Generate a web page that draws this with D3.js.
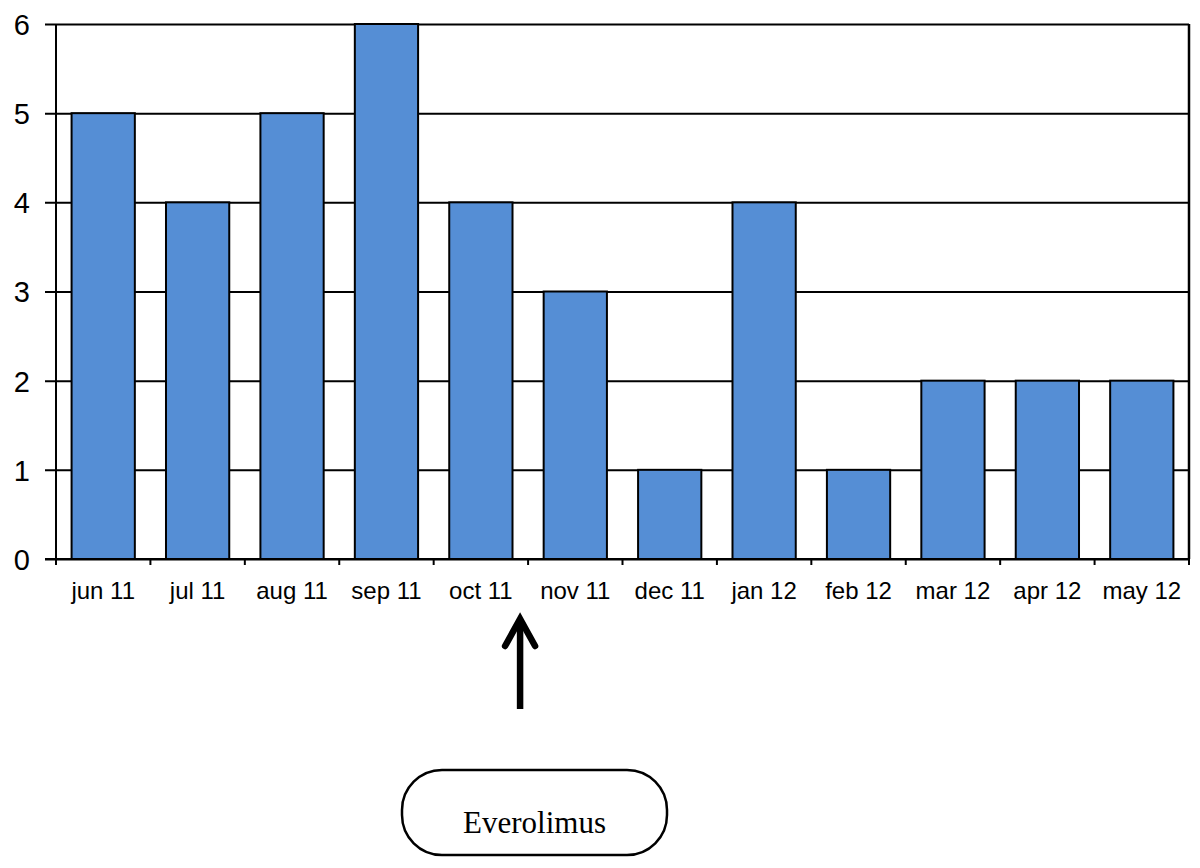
<!DOCTYPE html>
<html>
<head>
<meta charset="utf-8">
<script src="https://cdn.jsdelivr.net/npm/d3@7"></script>
<style>
  body { margin: 0; background: #fff; }
  svg { display: block; }
</style>
</head>
<body>
<svg id="chart"></svg>
<script>
// monthly counts
const months = ["jun 11", "jul 11", "aug 11", "sep 11", "oct 11", "nov 11",
                "dec 11", "jan 12", "feb 12", "mar 12", "apr 12", "may 12"];
const counts = [5, 4, 5, 6, 4, 3, 1, 4, 1, 2, 2, 2];
const yTicks = [0, 1, 2, 3, 4, 5, 6];
const markerMonth = "nov 11";   // arrow sits at the oct/nov boundary
const markerLabel = "Everolimus";

const width = 1200, height = 868;
const margin = { top: 24, right: 11, bottom: 309, left: 56 };
const innerW = width - margin.left - margin.right;
const innerH = height - margin.top - margin.bottom;

const svg = d3.select("#chart")
    .attr("width", width)
    .attr("height", height);

const g = svg.append("g")
    .attr("transform", `translate(${margin.left},${margin.top})`);

const x = d3.scaleBand()
    .domain(months)
    .range([0, innerW])
    .paddingInner(0.33)
    .paddingOuter(0.165);

const y = d3.scaleLinear()
    .domain([0, 6])
    .range([innerH, 0]);

// horizontal gridlines with ticks outward + labels
const yAxis = g.append("g")
    .call(d3.axisLeft(y).tickValues(yTicks).tickFormat(d3.format("d"))
        .tickSize(-innerW).tickPadding(26));
yAxis.select(".domain").remove();
yAxis.selectAll(".tick line")
    .attr("x1", -11)
    .attr("stroke", "#000")
    .attr("stroke-width", 2);
yAxis.selectAll(".tick text")
    .attr("font-family", "Liberation Sans, Arial, sans-serif")
    .attr("font-size", 29)
    .attr("fill", "#000")
    .attr("dy", "0.36em");

// bars
g.selectAll("rect.bar")
    .data(counts)
    .enter()
    .append("rect")
    .attr("class", "bar")
    .attr("x", (d, i) => x(months[i]))
    .attr("y", d => y(d))
    .attr("width", x.bandwidth())
    .attr("height", d => innerH - y(d))
    .attr("fill", "#558ed5")
    .attr("stroke", "#000")
    .attr("stroke-width", 2);

// left and right frame lines
g.append("line")
    .attr("x1", 0).attr("x2", 0)
    .attr("y1", 0).attr("y2", innerH)
    .attr("stroke", "#000").attr("stroke-width", 2);
g.append("line")
    .attr("x1", innerW).attr("x2", innerW)
    .attr("y1", 0).attr("y2", innerH)
    .attr("stroke", "#000").attr("stroke-width", 2.5);

// x axis: ticks at band boundaries
const step = x.step();
const xAxisG = g.append("g")
    .attr("transform", `translate(0,${innerH})`);
xAxisG.append("line")
    .attr("x1", -11).attr("x2", innerW)
    .attr("stroke", "#000").attr("stroke-width", 2);
xAxisG.selectAll("line.tick")
    .data(d3.range(months.length + 1))
    .enter()
    .append("line")
    .attr("class", "tick")
    .attr("x1", i => i * step)
    .attr("x2", i => i * step)
    .attr("y1", 0).attr("y2", 6)
    .attr("stroke", "#000").attr("stroke-width", 2);
xAxisG.selectAll("text")
    .data(months)
    .enter()
    .append("text")
    .attr("x", d => x(d) + x.bandwidth() / 2)
    .attr("y", 40)
    .attr("text-anchor", "middle")
    .attr("font-family", "Liberation Sans, Arial, sans-serif")
    .attr("font-size", 24)
    .attr("fill", "#000")
    .text(d => d);

// arrow pointing at the treatment start
const arrowX = margin.left + x(markerMonth) - x.step() * x.paddingInner() / 2 - 8;
const arrow = svg.append("g")
    .attr("stroke", "#000")
    .attr("stroke-width", 6.5)
    .attr("fill", "none");
arrow.append("line")
    .attr("x1", arrowX).attr("x2", arrowX)
    .attr("y1", 709).attr("y2", 620);
arrow.append("path")
    .attr("d", `M${arrowX - 15},${646} L${arrowX},${619} L${arrowX + 15},${646}`)
    .attr("stroke-linecap", "round")
    .attr("stroke-linejoin", "miter");

// label box
const box = svg.append("g").attr("transform", "translate(402,770)");
box.append("rect")
    .attr("width", 265).attr("height", 85)
    .attr("rx", 40).attr("ry", 40)
    .attr("fill", "#fff")
    .attr("stroke", "#000")
    .attr("stroke-width", 2.5);
box.append("text")
    .attr("x", 132.5).attr("y", 63)
    .attr("text-anchor", "middle")
    .attr("font-family", "Liberation Serif, Times New Roman, serif")
    .attr("font-size", 31)
    .attr("fill", "#000")
    .text(markerLabel);
</script>
</body>
</html>
